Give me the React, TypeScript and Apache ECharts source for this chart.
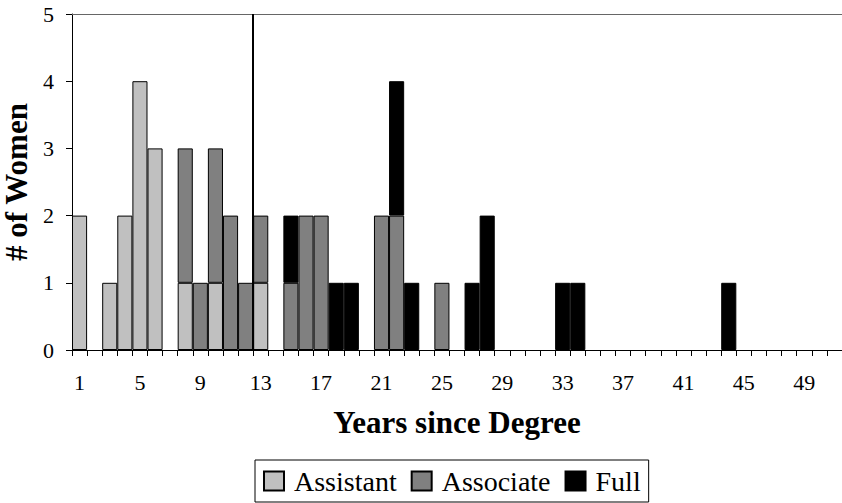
import React, { useEffect, useRef } from "react";
import * as echarts from "echarts";

const categories = [
  "1", "2", "3", "4", "5", "6", "7", "8", "9", "10",
  "11", "12", "13", "14", "15", "16", "17", "18", "19", "20",
  "21", "22", "23", "24", "25", "26", "27", "28", "29", "30",
  "31", "32", "33", "34", "35", "36", "37", "38", "39", "40",
  "41", "42", "43", "44", "45", "46", "47", "48", "49", "50", "51",
];

const assistant = [
  2, 0, 1, 2, 4, 3, 0, 1, 0, 1,
  0, 0, 1, 0, 0, 0, 0, 0, 0, 0,
  0, 0, 0, 0, 0, 0, 0, 0, 0, 0,
  0, 0, 0, 0, 0, 0, 0, 0, 0, 0,
  0, 0, 0, 0, 0, 0, 0, 0, 0, 0, 0,
];

const associate = [
  0, 0, 0, 0, 0, 0, 0, 2, 1, 2,
  2, 1, 1, 0, 1, 2, 2, 0, 0, 0,
  2, 2, 0, 0, 1, 0, 0, 0, 0, 0,
  0, 0, 0, 0, 0, 0, 0, 0, 0, 0,
  0, 0, 0, 0, 0, 0, 0, 0, 0, 0, 0,
];

const full = [
  0, 0, 0, 0, 0, 0, 0, 0, 0, 0,
  0, 0, 0, 0, 1, 0, 0, 1, 1, 0,
  0, 2, 1, 0, 0, 0, 1, 2, 0, 0,
  0, 0, 1, 1, 0, 0, 0, 0, 0, 0,
  0, 0, 0, 1, 0, 0, 0, 0, 0, 0, 0,
];

const referenceLineAt = 12;

const FONT = "Liberation Serif";

export default function App() {
  const ref = useRef<HTMLDivElement>(null);

  useEffect(() => {
    if (!ref.current) return;
    const chart = echarts.init(ref.current, null, { renderer: "svg" });
    const toData = (arr: number[]) => arr.map((v) => (v === 0 ? "-" : v));
    const barStyle = (color: string) => ({
      color,
      borderColor: "#000",
      borderWidth: 1,
    });
    chart.setOption({
      animation: false,
      backgroundColor: "#fff",
      textStyle: { fontFamily: FONT, color: "#000" },
      grid: {
        left: 72,
        top: 14,
        width: 770,
        height: 336,
        containLabel: false,
        outerBoundsMode: "none",
      },
      legend: {
        data: ["Assistant", "Associate", "Full"],
        left: 255,
        top: 460,
        padding: [7, 8, 7, 8],
        borderColor: "#000",
        borderWidth: 1,
        itemWidth: 20,
        itemHeight: 19,
        itemGap: 14,
        icon: "rect",
        textStyle: { fontFamily: FONT, fontSize: 28, color: "#000", padding: [0, 0, 0, 5] },
      },
      xAxis: [
        {
          type: "category",
          data: categories,
          boundaryGap: true,
          name: "Years since Degree",
          nameLocation: "middle",
          nameGap: 57,
          nameTextStyle: { fontFamily: FONT, fontSize: 31, fontWeight: "bold", color: "#000" },
          axisLine: { show: true, lineStyle: { color: "#000", width: 1 } },
          axisTick: { show: true, interval: 0, length: 6, lineStyle: { color: "#000" } },
          axisLabel: { interval: 3, fontFamily: FONT, fontSize: 22, color: "#000", margin: 21 },
          splitLine: { show: false },
        },
        {
          type: "value",
          position: "top",
          min: 0,
          max: 51,
          axisLine: { show: true, onZero: false, lineStyle: { color: "#666", width: 1 } },
          axisTick: { show: false },
          axisLabel: { show: false },
          splitLine: { show: false },
        },
      ],
      yAxis: {
        type: "value",
        min: 0,
        max: 5,
        interval: 1,
        name: "# of Women",
        nameLocation: "middle",
        nameGap: 33,
        nameTextStyle: { fontFamily: FONT, fontSize: 31, fontWeight: "bold", color: "#000" },
        axisLine: { show: true, lineStyle: { color: "#000", width: 1 } },
        axisTick: { show: true, length: 6, lineStyle: { color: "#000" } },
        axisLabel: { fontFamily: FONT, fontSize: 22, color: "#000", margin: 18 },
        splitLine: { show: false },
      },
      series: [
        {
          name: "Assistant",
          type: "bar",
          stack: "rank",
          barCategoryGap: "0%",
          data: toData(assistant),
          itemStyle: barStyle("#c0c0c0"),
        },
        {
          name: "Associate",
          type: "bar",
          stack: "rank",
          barCategoryGap: "0%",
          data: toData(associate),
          itemStyle: barStyle("#808080"),
        },
        {
          name: "Full",
          type: "bar",
          stack: "rank",
          barCategoryGap: "0%",
          data: toData(full),
          itemStyle: barStyle("#000000"),
        },
        {
          name: "ref",
          type: "line",
          xAxisIndex: 1,
          yAxisIndex: 0,
          data: [],
          showSymbol: false,
          silent: true,
          markLine: {
            symbol: "none",
            silent: true,
            label: { show: false },
            lineStyle: { color: "#000", width: 2, type: "solid" },
            data: [{ xAxis: referenceLineAt }],
          },
        },
      ],
    });
    return () => chart.dispose();
  }, []);

  return (
    <div
      ref={ref}
      style={{ position: "fixed", left: 0, top: 0, width: 842, height: 503 }}
    />
  );
}
